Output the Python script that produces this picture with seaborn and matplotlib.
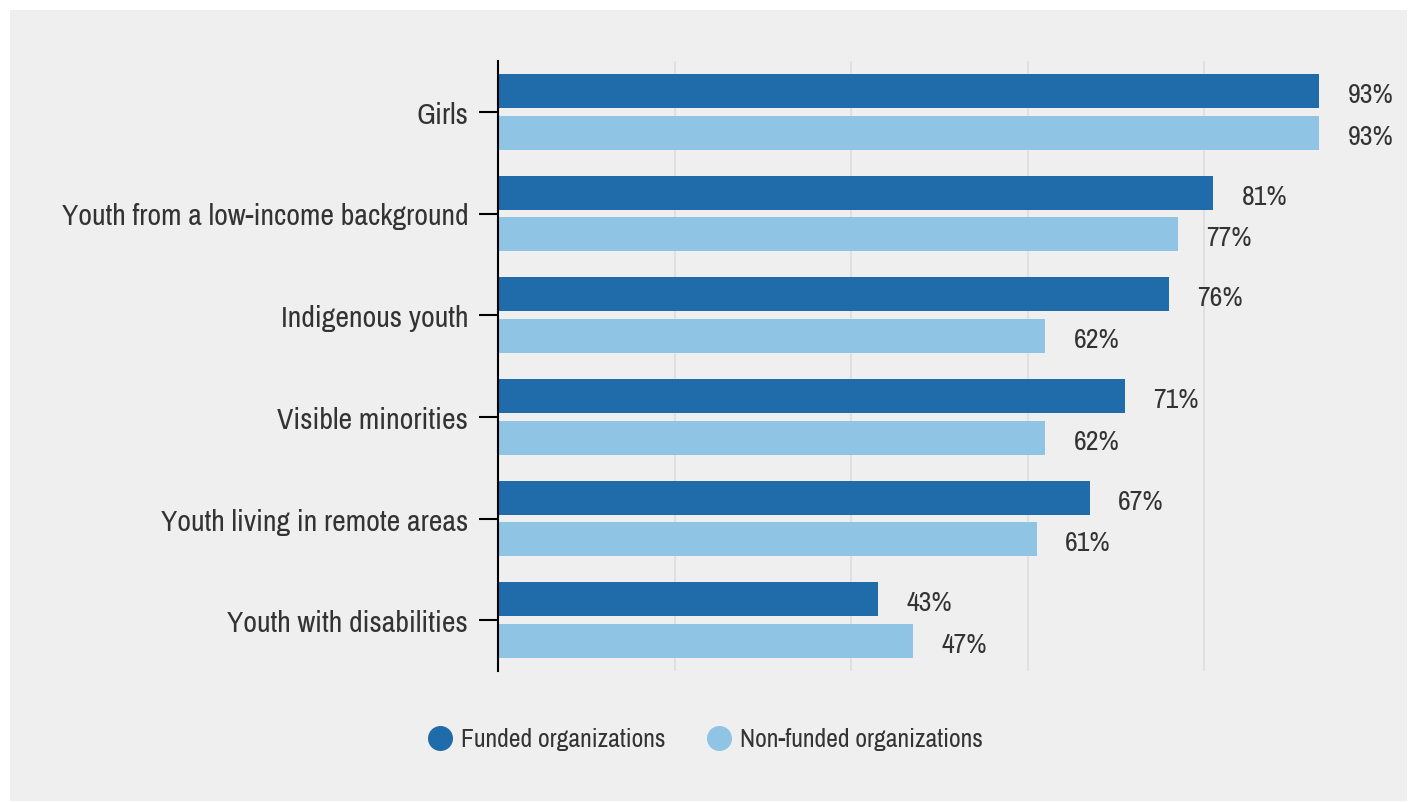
import matplotlib
matplotlib.use("Agg")
import matplotlib.pyplot as plt
from matplotlib import font_manager
from matplotlib.lines import Line2D
from matplotlib.patches import Rectangle
import seaborn as sns
import pandas as pd

categories = [
    "Girls",
    "Youth from a low-income background",
    "Indigenous youth",
    "Visible minorities",
    "Youth living in remote areas",
    "Youth with disabilities",
]
funded = [93, 81, 76, 71, 67, 43]
non_funded = [93, 77, 62, 62, 61, 47]
series_names = ["Funded organizations", "Non-funded organizations"]

DARK = "#206ba9"
LIGHT = "#90c4e5"
BG = "#efefef"
TEXT = "#333333"

sns.set_theme(style="white")
fonts = font_manager.fontManager.ttflist
narrow = [f for f in fonts if ("Condensed" in f.name or "Narrow" in f.name
                               or "condensed" in str(f.stretch)) and "Bold" not in f.fname
          and "Italic" not in f.fname]
narrow_names = sorted({f.name for f in narrow})
family = narrow_names[0] if narrow_names else "Roboto"
plt.rcParams["font.family"] = [family, "DejaVu Sans"]
if narrow:
    plt.rcParams["font.stretch"] = "condensed"

df = pd.DataFrame({
    "category": categories * 2,
    "value": funded + non_funded,
    "series": [series_names[0]] * len(categories) + [series_names[1]] * len(categories),
})

fig = plt.figure(figsize=(14.10, 8.03), dpi=100, facecolor="white")
panel = Rectangle((10 / 1410, 1 - 802 / 803), 1397 / 1410, 791 / 803,
                  transform=fig.transFigure, facecolor=BG, edgecolor="none", zorder=-10)
fig.add_artist(panel)
ax = fig.add_axes([498 / 1410, 1 - 672 / 803, 883 / 1410, 610 / 803])
ax.set_facecolor(BG)

sns.barplot(data=df, x="value", y="category", hue="series", orient="h",
            palette=[DARK, LIGHT], width=0.825, gap=0.19, saturation=1,
            linewidth=0, edgecolor="none", legend=False, ax=ax, zorder=2)

ax.set_xlim(0, 100)
ax.set_ylim(5.5, -0.5)
ax.set_xticks([20, 40, 60, 80])
ax.set_xticklabels([])
ax.grid(axis="x", color="#e0e0e0", linewidth=1.4, zorder=0)
ax.set_axisbelow(True)
ax.tick_params(axis="x", length=0)
ax.tick_params(axis="y", length=13.5, width=1.5, color="black", pad=8,
               labelsize=21.5, labelcolor=TEXT, left=True)
for lbl in ax.get_yticklabels():
    lbl.set_va("center_baseline")
ax.set_xlabel("")
ax.set_ylabel("")
for side in ["top", "right", "bottom"]:
    ax.spines[side].set_visible(False)
ax.spines["left"].set_color("black")
ax.spines["left"].set_linewidth(1.5)

for container in ax.containers:
    for bar in container:
        w = bar.get_width()
        y = bar.get_y() + bar.get_height() / 2
        ax.annotate(f"{w:.0f}%", (w, y), xytext=(20.5, -2.5), textcoords="offset points",
                    va="center", ha="left", fontsize=20, color=TEXT)

handles = [Line2D([], [], marker="o", linestyle="", markersize=17,
                  markerfacecolor=c, markeredgecolor=c) for c in (DARK, LIGHT)]
fig.legend(handles, series_names, loc="center", bbox_to_anchor=(0.5, 1 - 740 / 803),
           ncol=2, frameon=False, fontsize=18.5, labelcolor=TEXT,
           handletextpad=0.3, columnspacing=1.6, handlelength=1.0)

fig.savefig("out.png", dpi=100, facecolor="white")
